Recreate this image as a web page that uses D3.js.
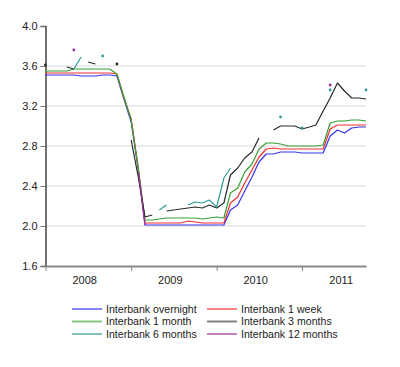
<!DOCTYPE html>
<html lang="en">
  <head>
    <meta charset="UTF-8" />
    <title>Interbank rates</title>
    <script src="https://cdnjs.cloudflare.com/ajax/libs/d3/7.8.5/d3.min.js"></script>
    <style>
      body,
      html {
        margin: 0;
        padding: 0;
        background: #fff;
      }
      svg {
        display: block;
      }
      text {
        font-family: "Liberation Sans", Arial, sans-serif;
        fill: #222;
      }
    </style>
  </head>
  <body>
    <svg width="400" height="367"></svg>
    <script type="text/javascript">
      // monthly observations, Jan 2008 .. Oct 2011
      const months = d3.timeMonth.range(new Date(2008, 0, 1), new Date(2011, 10, 1));
      const years = [2008, 2009, 2010, 2011];
      const yTicks = [1.6, 2.0, 2.4, 2.8, 3.2, 3.6, 4.0];

      const overnight = [
        3.51, 3.51, 3.51, 3.51, 3.51, 3.5, 3.5, 3.5, 3.51, 3.51, 3.5,
        3.27, 3.04, 2.55, 2.01,
        2.01, 2.01, 2.01, 2.01, 2.01, 2.01, 2.01, 2.01, 2.01, 2.01, 2.01,
        2.16, 2.21, 2.35, 2.49, 2.64, 2.72, 2.72, 2.74, 2.74, 2.74,
        2.73, 2.73, 2.73, 2.73, 2.9, 2.96, 2.93, 2.98, 2.99, 2.99,
      ];
      const week1 = [
        3.53, 3.53, 3.53, 3.53, 3.53, 3.53, 3.53, 3.53, 3.53, 3.53, 3.52,
        3.28, 3.07, 2.57, 2.03,
        2.03, 2.03, 2.03, 2.03, 2.03, 2.05, 2.04, 2.03, 2.03, 2.03, 2.03,
        2.23, 2.29, 2.43, 2.56, 2.69, 2.77, 2.78, 2.77, 2.77, 2.77,
        2.77, 2.77, 2.77, 2.77, 2.97, 3.01, 3.01, 3.01, 3.01, 3.01,
      ];
      const month1 = [
        3.55, 3.55, 3.55, 3.55, 3.57, 3.57, 3.57, 3.57, 3.57, 3.57, 3.52,
        3.29, 3.06, 2.56, 2.06,
        2.06, 2.07, 2.08, 2.08, 2.08, 2.08, 2.08, 2.07, 2.08, 2.09, 2.08,
        2.33, 2.38, 2.54, 2.62, 2.77, 2.83, 2.83, 2.82, 2.8, 2.8,
        2.8, 2.8, 2.8, 2.81, 3.03, 3.05, 3.05, 3.06, 3.06, 3.05,
      ];
      const months3 = [
        3.61, null, null, 3.59, 3.57, null, 3.64, 3.62, null, null, 3.62,
        null, 2.86, 2.48, 2.09,
        2.11, null, 2.15, 2.16, 2.17, 2.18, 2.19, 2.18, 2.21, 2.18, 2.23,
        2.51, 2.58, 2.68, 2.74, 2.88, null, 2.96, 3.0, 3.0, 3.0,
        2.97, 2.99, 3.01, 3.15, 3.28, 3.43, 3.35, 3.28, 3.28, 3.27,
      ];
      const months6 = [
        null, null, null, null, 3.57, 3.69, null, null, 3.7, null, null,
        null, null, null, null,
        null, 2.16, 2.21, null, null, 2.21, 2.24, 2.23, 2.26, 2.19, 2.48,
        2.58, null, null, null, null, null, null, 3.09, null, null,
        2.98, null, null, null, 3.36, null, null, null, null, 3.36,
      ];
      const months12 = [
        null, null, null, null, 3.76, null, null, null, null, null, null,
        null, null, 2.53, 2.01,
        null, null, null, null, null, null, null, null, null, null, null,
        null, null, null, null, null, null, null, null, null, null,
        null, null, null, null, 3.41, null, null, null, null, null,
      ];

      const seriesNames = [
        "Interbank overnight",
        "Interbank 1 week",
        "Interbank 1 month",
        "Interbank 3 months",
        "Interbank 6 months",
        "Interbank 12 months",
      ];
      const seriesValues = [overnight, week1, month1, months3, months6, months12];
      const colors = ["#3535f0", "#f03030", "#35a035", "#2a2a2a", "#2f9a9a", "#992d99"];

      const svg = d3.select("svg");
      const plotLeft = 45.5,
        plotRight = 366,
        plotTop = 26,
        plotBottom = 266;

      const x = d3
        .scaleTime()
        .domain([months[0], months[months.length - 1]])
        .range([plotLeft, plotRight]);
      const y = d3.scaleLinear().domain([1.6, 4.0]).range([plotBottom, plotTop]);

      // gridlines
      svg
        .append("g")
        .selectAll("line")
        .data(yTicks.filter((d) => d > 1.6 && d < 4.0))
        .join("line")
        .attr("x1", plotLeft)
        .attr("x2", plotRight)
        .attr("y1", (d) => y(d))
        .attr("y2", (d) => y(d))
        .attr("stroke", "#e4e4e4")
        .attr("stroke-width", 1.5);

      // y axis
      const yAxis = svg
        .append("g")
        .attr("transform", `translate(${plotLeft},0)`)
        .call(
          d3
            .axisLeft(y)
            .tickValues(yTicks)
            .tickFormat(d3.format(".1f"))
            .tickSize(5)
            .tickPadding(3)
        );
      yAxis.select(".domain").attr("stroke", "#444").attr("stroke-width", 1.5);
      yAxis.selectAll(".tick line").attr("stroke", "#777");
      yAxis
        .selectAll(".tick text")
        .attr("font-size", 11)
        .attr("font-family", "Liberation Sans, Arial, sans-serif")
        .attr("fill", "#222");

      // x axis: ticks at year boundaries, labels centred on each year's months
      const xAxis = svg
        .append("g")
        .attr("transform", `translate(0,${plotBottom})`)
        .call(
          d3
            .axisBottom(x)
            .tickValues(years.map((yr) => new Date(yr, 0, 1)))
            .tickFormat("")
            .tickSize(5)
            .tickSizeOuter(0)
        );
      xAxis.select(".domain").attr("stroke", "#888").attr("stroke-width", 2);
      xAxis.selectAll(".tick line").attr("stroke", "#888");

      svg
        .append("g")
        .selectAll("text")
        .data(years)
        .join("text")
        .attr("x", (yr) => (x(new Date(yr, 0, 1)) + x(new Date(yr, 11, 1))) / 2)
        .attr("y", 284)
        .attr("text-anchor", "middle")
        .attr("font-size", 11)
        .text((yr) => yr);

      // series
      const line = d3
        .line()
        .defined((d) => d.v != null)
        .x((d) => x(d.t))
        .y((d) => y(d.v));

      const series = seriesValues.map((vals, k) => ({
        name: seriesNames[k],
        color: colors[k],
        points: vals.map((v, i) => ({ t: months[i], v: v })),
      }));

      const plot = svg.append("g");
      series.forEach((s) => {
        plot
          .append("path")
          .datum(s.points)
          .attr("fill", "none")
          .attr("stroke", s.color)
          .attr("stroke-width", 1.2)
          .attr("stroke-linejoin", "round")
          .attr("d", line);

        // isolated observations show up as dots
        const lone = s.points.filter(
          (d, i, arr) =>
            d.v != null &&
            (i === 0 || arr[i - 1].v == null) &&
            (i === arr.length - 1 || arr[i + 1].v == null)
        );
        plot
          .append("g")
          .selectAll("circle")
          .data(lone)
          .join("circle")
          .attr("cx", (d) => x(d.t))
          .attr("cy", (d) => y(d.v))
          .attr("r", 1.4)
          .attr("fill", s.color);
      });

      // legend
      const legend = svg
        .append("g")
        .selectAll("g")
        .data(series)
        .join("g")
        .attr(
          "transform",
          (d, i) => `translate(${i % 2 === 0 ? 72 : 207},${309 + Math.floor(i / 2) * 12.5})`
        );
      legend
        .append("line")
        .attr("x1", 0)
        .attr("x2", 30)
        .attr("stroke", (d) => d.color)
        .attr("stroke-opacity", 0.6)
        .attr("stroke-width", 2);
      legend
        .append("text")
        .attr("x", 34)
        .attr("dy", "0.35em")
        .attr("font-size", 10.6)
        .text((d) => d.name);
    </script>
  </body>
</html>
